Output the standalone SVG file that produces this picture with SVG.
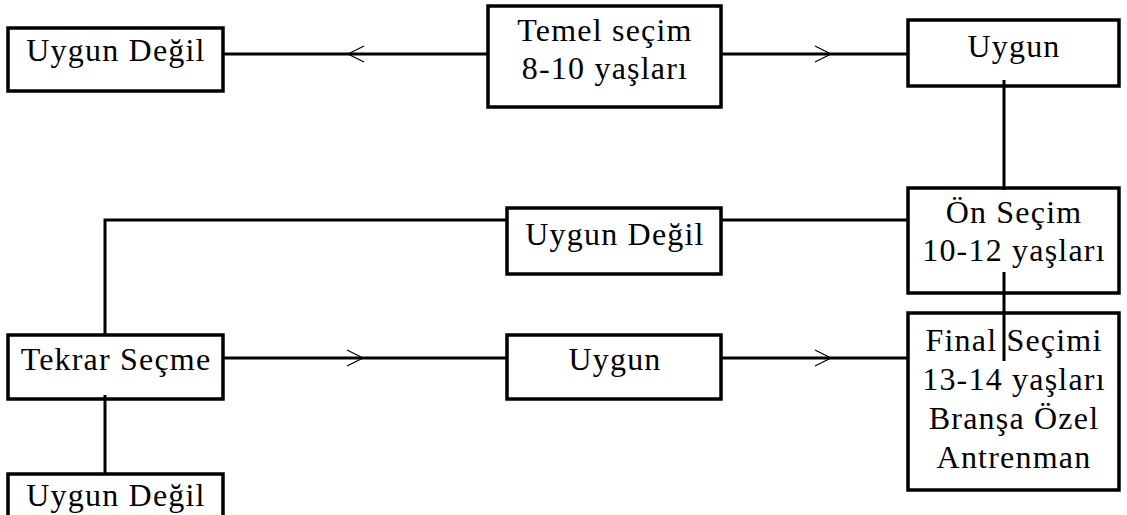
<svg xmlns="http://www.w3.org/2000/svg" width="1127" height="515" viewBox="0 0 1127 515">
<defs>
<style>
.box{fill:#fff;stroke:#000;stroke-width:3.5}
.ln{stroke:#000;stroke-width:3;fill:none}
.ah{stroke:#000;stroke-width:1.2;fill:none}
</style>
</defs>
<rect width="1127" height="515" fill="#fff"/>
<g id="connectors">
<line class="ln" x1="223" y1="54" x2="488" y2="54"/>
<polyline class="ah" points="364,46 348,54 364,62"/>
<line class="ln" x1="721" y1="54" x2="908" y2="54"/>
<polyline class="ah" points="815,46 831,54 815,62"/>
<line class="ln" x1="721" y1="220" x2="908" y2="220"/>
<polyline class="ln" points="507,220 105,220 105,357"/>
<line class="ln" x1="223" y1="358" x2="507" y2="358"/>
<polyline class="ah" points="347,350 363,358 347,366"/>
<line class="ln" x1="721" y1="358" x2="908" y2="358"/>
<polyline class="ah" points="815,350 831,358 815,366"/>
</g>
<g font-family="Liberation Serif, Times New Roman, serif" font-size="32" letter-spacing="1.2" text-anchor="middle" fill="#000">
<g id="n1"><rect class="box" x="8" y="28" width="215" height="63"/><text x="116" y="61">Uygun Değil</text></g>
<g id="n2"><rect class="box" x="488" y="6" width="233" height="101"/><text x="605" y="41">Temel seçim</text><text x="605" y="79">8-10 yaşları</text></g>
<g id="n3"><rect class="box" x="908" y="20" width="211" height="66"/><text x="1014" y="57">Uygun</text></g>
<g id="n4"><rect class="box" x="507" y="208" width="214" height="66"/><text x="615" y="245">Uygun Değil</text></g>
<g id="n5"><rect class="box" x="908" y="188" width="211" height="105"/><text x="1014" y="223">Ön Seçim</text><text x="1014" y="261">10-12 yaşları</text></g>
<g id="n6"><rect class="box" x="8" y="335" width="215" height="64"/><text x="116" y="370">Tekrar Seçme</text></g>
<g id="n7"><rect class="box" x="507" y="335" width="214" height="64"/><text x="615" y="370">Uygun</text></g>
<g id="n8"><rect class="box" x="908" y="313" width="211" height="177"/><text x="1014" y="351">Final Seçimi</text><text x="1014" y="390">13-14 yaşları</text><text x="1014" y="429">Branşa Özel</text><text x="1014" y="468">Antrenman</text></g>
<g id="n9"><rect class="box" x="8" y="474" width="215" height="66"/><text x="116" y="506">Uygun Değil</text></g>
</g>
<g id="connectors-over">
<line class="ln" x1="1004" y1="80" x2="1004" y2="190"/>
<line class="ln" x1="1004" y1="272" x2="1004" y2="361"/>
<line class="ln" x1="105" y1="395" x2="105" y2="475"/>
</g>
</svg>
